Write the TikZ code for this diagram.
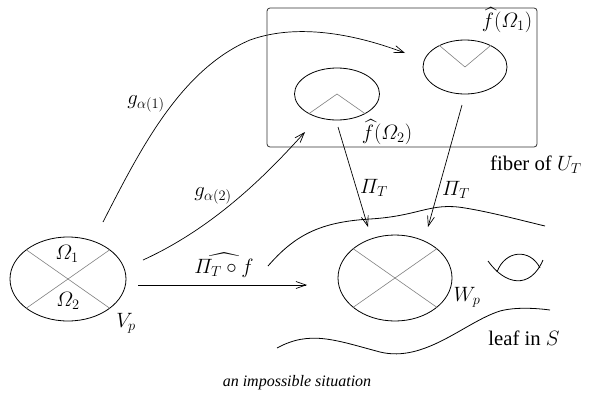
\documentclass[tikz,border=0pt]{standalone}
\usepackage{amsmath}
\usepackage{fontspec}
\setmainfont{Liberation Serif}
\usetikzlibrary{shapes.geometric,arrows.meta}

\begin{document}
\begin{tikzpicture}[x=1pt, y=-1pt,
      blob/.style={draw, ellipse, line width=0.8pt, inner sep=0pt},
      arrow/.style={-{Straight Barb[length=10pt, width=7pt]}, line width=0.7pt},
      cut/.style={gray, line width=0.6pt},
      curve/.style={line width=0.8pt},
      lbl/.style={font=\huge, inner sep=1pt}
    ]
  \useasboundingbox (0,0) rectangle (593,402);
  % fiber box
  \draw[line width=0.8pt, black!80, rounded corners=3pt] (267,8) rectangle (537,147);
  % ellipses
  \node[blob, minimum width=116pt, minimum height=84pt] (Vp) at (68,279) {};
  \node[blob, minimum width=114pt, minimum height=86pt] (Wp) at (395,278) {};
  \node[blob, minimum width=84pt, minimum height=54pt] (fO1) at (465,67) {};
  \node[blob, minimum width=85pt, minimum height=52pt] (fO2) at (337,94) {};
  \draw[cut] (Vp.145) -- (Vp.-35);
  \draw[cut] (Vp.215) -- (Vp.35);
  \draw[cut] (Wp.145) -- (Wp.-35);
  \draw[cut] (Wp.215) -- (Wp.35);
  \draw[cut] (fO1.140) -- (fO1.center) -- (fO1.40);
  \draw[cut] (fO2.-145) -- (fO2.center) -- (fO2.-35);
  % labels
  \node[lbl] (om1) at (67,254) {$\varOmega_1$};
  \node[lbl] (om2) at (68,301) {$\varOmega_2$};
  \node[lbl] (lVp) at (126,323) {$V_p$};
  \node[lbl] (lWp) at (467,297) {$W_p$};
  \node[lbl] (lf1) at (507,20) {$\widehat{f}(\varOmega_1)$};
  \node[lbl] (lf2) at (387,132) {$\widehat{f}(\varOmega_2)$};
  \node[lbl] (lg1) at (146,104) {$g_{\alpha(1)}$};
  \node[lbl] (lg2) at (213,196) {$g_{\alpha(2)}$};
  \node[lbl] (lh) at (224,265) {$\widehat{\varPi_T\circ f}$};
  \node[lbl] (lp1) at (374,188) {$\varPi_T$};
  \node[lbl] (lp2) at (456,190) {$\varPi_T$};
  \node[lbl, anchor=west] (lfib) at (489,165) {fiber of $U_T$};
  \node[lbl] (lleaf) at (524,338) {leaf in $S$};
  \node[lbl, font=\fontsize{16}{19}\selectfont] (cap) at (297,383) {\textit{an impossible situation}};
  % arrows
  \coordinate (g1s) at (103,222);
  \coordinate (g1e) at (405,53);
  \coordinate (g2s) at (143,260);
  \coordinate (g2e) at (305,132);
  \coordinate (hs) at (138,285);
  \coordinate (he) at (307,285);
  \coordinate (p1s) at (338,127);
  \coordinate (p1e) at (368,227);
  \coordinate (p2s) at (462,105);
  \coordinate (p2e) at (428,227);
  \draw[arrow] (g1s) .. controls (140,150) and (180,70) .. (250,40) .. controls (300,22) and (360,36) .. (g1e);
  \draw[arrow] (g2s) .. controls (220,225) and (275,165) .. (g2e);
  \draw[arrow] (hs) -- (he);
  \draw[arrow] (p1s) -- (p1e);
  \draw[arrow] (p2s) -- (p2e);
  % leaves
  \draw[curve] (268,266) .. controls (295,235) and (320,222) .. (370,219) .. controls (420,216) and (430,202) .. (465,208) .. controls (490,212) and (520,220) .. (545,226);
  \draw[curve] (277,348) .. controls (310,330) and (335,340) .. (380,352) .. controls (425,363) and (465,322) .. (500,311) .. controls (515,307) and (535,308) .. (550,310);
  \draw[curve] (488,261) .. controls (505,285) and (530,290) .. (543,260);
  \draw[curve] (497,272) .. controls (505,250) and (530,248) .. (540,268);
\end{tikzpicture}
\end{document}
